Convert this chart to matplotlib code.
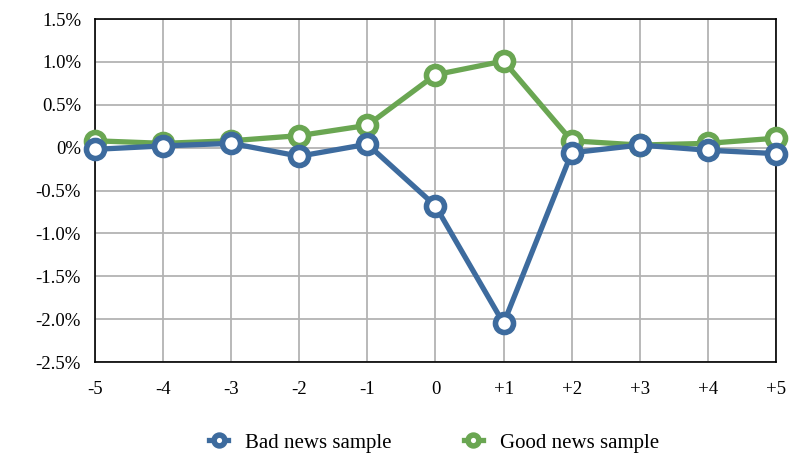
import numpy as np
import matplotlib.pyplot as plt
from matplotlib.ticker import FuncFormatter

days = [-5, -4, -3, -2, -1, 0, 1, 2, 3, 4, 5]
day_labels = ['-5', '-4', '-3', '-2', '-1', '0', '+1', '+2', '+3', '+4', '+5']
bad_news = [-0.02, 0.02, 0.05, -0.10, 0.04, -0.68, -2.05, -0.06, 0.03, -0.03, -0.07]
good_news = [0.08, 0.05, 0.08, 0.14, 0.26, 0.85, 1.01, 0.08, 0.03, 0.05, 0.11]

plt.rcParams['font.family'] = ['Liberation Serif', 'DejaVu Serif']

fig = plt.figure(figsize=(7.89, 4.59), dpi=100)
ax = fig.add_axes([0.1204, 0.2113, 0.8631, 0.7473])

blue = '#3d6b9e'
green = '#6aa652'
ax.plot(days, good_news, color=green, lw=3.8, marker='o', ms=13, mfc='white',
        mec=green, mew=4, label='Good news sample', clip_on=False, zorder=3)
ax.plot(days, bad_news, color=blue, lw=3.8, marker='o', ms=13, mfc='white',
        mec=blue, mew=4, label='Bad news sample', clip_on=False, zorder=4)

ax.set_xlim(-5, 5)
ax.set_ylim(-2.5, 1.5)
ax.set_xticks(days)
ax.set_xticklabels(day_labels)
ax.set_yticks(np.arange(-2.5, 1.51, 0.5))

def fmt(v, pos):
    if abs(v) < 1e-9:
        return '0%'
    return '%.1f%%' % v
ax.yaxis.set_major_formatter(FuncFormatter(fmt))

ax.grid(True, color='#b3b3b3', lw=1.3)
ax.set_axisbelow(True)
for s in ax.spines.values():
    s.set_color('black')
    s.set_linewidth(1.2)
ax.tick_params(length=0, labelsize=13.5, pad=10)
ax.tick_params(axis='x', pad=14)

handles, labels = ax.get_legend_handles_labels()
fig.legend(handles[::-1], labels[::-1], loc='center', bbox_to_anchor=(0.55, 0.035),
           ncol=2, frameon=False, fontsize=15, handlelength=0.9,
           columnspacing=3.5, markerscale=0.6)

fig.savefig('out.png', dpi=100)
